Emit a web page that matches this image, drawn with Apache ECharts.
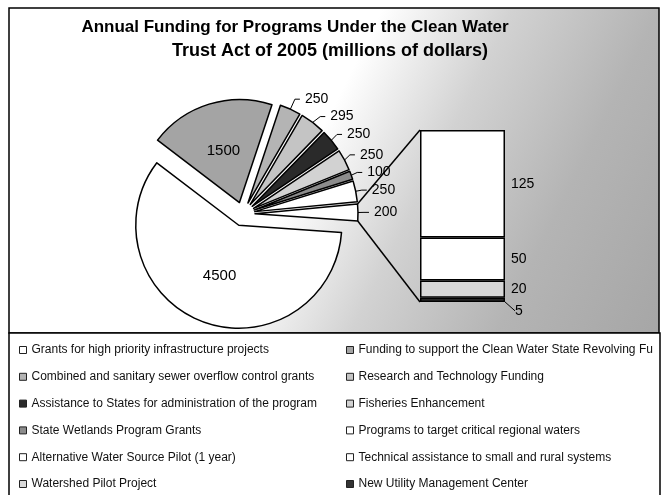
<!DOCTYPE html>
<html>
<head>
<meta charset="utf-8">
<script src="https://cdn.jsdelivr.net/npm/echarts@6/dist/echarts.min.js"></script>
<style>
html, body { margin: 0; padding: 0; background: #fff; }
#chart { width: 664px; height: 495px; }
</style>
</head>
<body>
<div id="chart"></div>
<script>
// slices of the pie, clockwise from 3 o'clock
const pieNames = [
  'Grants for high priority infrastructure projects',
  'Funding to support the Clean Water State Revolving Fund',
  'Combined and sanitary sewer overflow control grants',
  'Research and Technology Funding',
  'Assistance to States for administration of the program',
  'Fisheries Enhancement',
  'State Wetlands Program Grants',
  'Programs to target critical regional waters'
];
const pieValues = [4500, 1500, 250, 295, 250, 250, 100, 250];
const pieColors = ['#ffffff', '#a4a4a4', '#b4b4b4', '#c4c4c4', '#2a2a2a', '#d2d2d2', '#8c8c8c', '#ffffff'];

// the small programs, shown in the bar (top to bottom)
const barNames = [
  'Alternative Water Source Pilot (1 year)',
  'Technical assistance to small and rural systems',
  'Watershed Pilot Project',
  'New Utility Management Center'
];
const barValues = [125, 50, 20, 5];
const barColors = ['#ffffff', '#ffffff', '#d8d8d8', '#333333'];

const otherValue = barValues.reduce((a, b) => a + b, 0);
const total = pieValues.reduce((a, b) => a + b, 0) + otherValue;

const font = 'Liberation Sans, Arial, sans-serif';
const pieCenter = [243, 214];
const pieRadius = 103;
const startAngle = 356;
const explode = 12;
const barGrid = { left: 420, top: 130, width: 85, height: 172 };

const chart = echarts.init(document.getElementById('chart'));

const allNames = pieNames.concat(barNames);
const leftNames = allNames.filter((n, i) => i % 2 === 0);
const rightNames = allNames.filter((n, i) => i % 2 === 1);

const pieData = pieNames.map((n, i) => ({
  name: n,
  value: pieValues[i],
  selected: true,
  itemStyle: { color: pieColors[i] },
  label: i < 2 ? { position: 'inside', fontSize: 15 } : undefined
}));
pieData.push({ name: 'Other', value: otherValue, selected: true, itemStyle: { color: '#ffffff' } });

// bottom of the stack first
const barSeries = barNames.map((n, i) => ({
  name: n,
  type: 'bar',
  stack: 'other',
  barWidth: '100%',
  data: [barValues[i]],
  itemStyle: { color: barColors[i], borderColor: '#000', borderWidth: 1.5 },
  label: {
    show: true,
    position: 'right',
    color: '#000',
    fontSize: 14,
    fontFamily: font,
    distance: 6
  },
  labelLayout: i === barNames.length - 1 ? { dx: 4, dy: 11 } : undefined,
  labelLine: i === barNames.length - 1 ? { show: true, lineStyle: { color: '#000', width: 1 } } : undefined
})).reverse();

const legendBase = {
  orient: 'vertical',
  top: 344,
  padding: 0,
  height: 150,
  itemWidth: 7,
  itemHeight: 7,
  itemGap: 14.8,
  icon: 'rect',
  selectedMode: false,
  itemStyle: { borderColor: '#222', borderWidth: 1 },
  textStyle: {
    fontFamily: font,
    fontSize: 12,
    color: '#111',
    lineHeight: 12,
    width: 302,
    overflow: 'truncate',
    ellipsis: ''
  }
};

const frame = [
  {
    type: 'rect',
    z: -10,
    shape: { x: 9, y: 8, width: 650, height: 325 },
    style: {
      fill: new echarts.graphic.LinearGradient(0, 0, 1, 1, [
        { offset: 0, color: '#ffffff' },
        { offset: 0.46, color: '#ffffff' },
        { offset: 0.62, color: '#d2d2d2' },
        { offset: 0.8, color: '#b4b4b4' },
        { offset: 1, color: '#a6a6a6' }
      ]),
      stroke: '#000',
      lineWidth: 1.5
    }
  },
  {
    type: 'rect',
    z: -10,
    shape: { x: 9, y: 333, width: 651, height: 170 },
    style: { fill: '#fff', stroke: '#000', lineWidth: 1.5 }
  }
];

chart.setOption({
  animation: false,
  title: [
    {
      text: 'Annual Funding for Programs Under the Clean Water',
      left: 295, top: 19, padding: 0, textAlign: 'center',
      textStyle: { fontFamily: font, fontSize: 17, fontWeight: 'bold', color: '#000' }
    },
    {
      text: 'Trust Act of 2005 (millions of dollars)',
      left: 330, top: 42, padding: 0, textAlign: 'center',
      textStyle: { fontFamily: font, fontSize: 18, fontWeight: 'bold', color: '#000' }
    }
  ],
  legend: [
    Object.assign({}, legendBase, { left: 19, data: leftNames }),
    Object.assign({}, legendBase, { left: 346, data: rightNames })
  ],
  grid: barGrid,
  xAxis: { type: 'category', data: ['Other'], show: false },
  yAxis: { type: 'value', min: 0, max: otherValue, show: false },
  graphic: frame,
  series: [
    {
      type: 'pie',
      center: pieCenter,
      radius: pieRadius,
      startAngle: startAngle,
      clockwise: true,
      selectedMode: 'multiple',
      selectedOffset: explode,
      avoidLabelOverlap: true,
      emphasis: { disabled: true },
      itemStyle: { borderColor: '#000', borderWidth: 1.5 },
      label: {
        show: true,
        formatter: '{c}',
        color: '#000',
        fontSize: 14,
        fontFamily: font
      },
      labelLine: { show: true, length: 11, length2: 5, lineStyle: { color: '#000', width: 1 } },
      data: pieData
    }
  ].concat(barSeries)
});

// lines joining the "other" slice to the bar
const before = total - otherValue;
const a1 = (startAngle - 360 * before / total) * Math.PI / 180;
const a2 = (startAngle - 360) * Math.PI / 180;
const mid = (a1 + a2) / 2;
const ox = pieCenter[0] + explode * Math.cos(mid);
const oy = pieCenter[1] - explode * Math.sin(mid);
const barTop = chart.convertToPixel({ yAxisIndex: 0 }, otherValue);
const barBottom = chart.convertToPixel({ yAxisIndex: 0 }, 0);
const lineStyle = { stroke: '#000', lineWidth: 1.5 };
chart.setOption({
  graphic: frame.concat([
    {
      type: 'line',
      shape: { x1: ox + pieRadius * Math.cos(a1), y1: oy - pieRadius * Math.sin(a1), x2: barGrid.left, y2: barTop },
      style: lineStyle
    },
    {
      type: 'line',
      shape: { x1: ox + pieRadius * Math.cos(a2), y1: oy - pieRadius * Math.sin(a2), x2: barGrid.left, y2: barBottom },
      style: lineStyle
    }
  ])
});
</script>
</body>
</html>
